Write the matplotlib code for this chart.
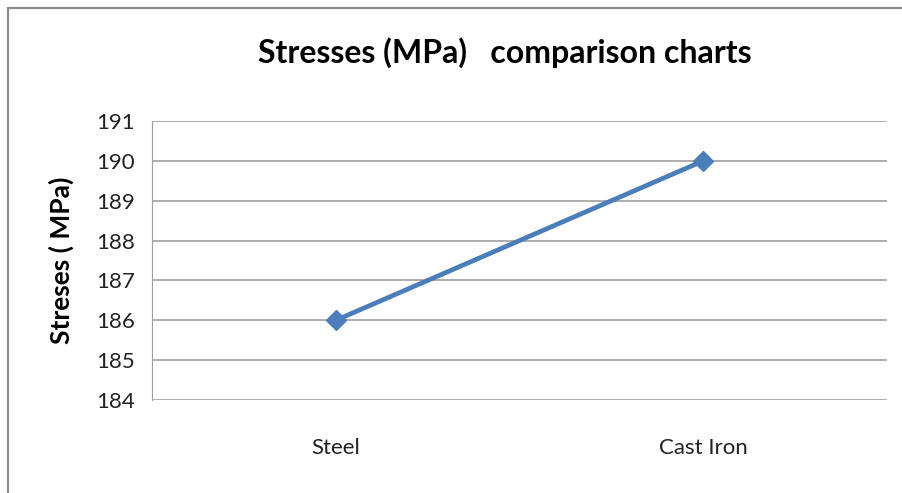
import matplotlib.pyplot as plt
from matplotlib.patches import Rectangle

materials = ["Steel", "Cast Iron"]
stresses = [186, 190]
yticks = [184, 185, 186, 187, 188, 189, 190, 191]

plt.rcParams['font.family'] = ['Lato', 'DejaVu Sans']

fig = plt.figure(figsize=(9.02, 4.93), dpi=100)
ax = fig.add_axes([0.1685, 0.1886, 0.815, 0.566])

# chart border (only top/left visible in the original crop)
fig.patches.append(Rectangle((8/902, -0.1), 1.2, 1 - 8/493 + 0.1, transform=fig.transFigure,
                             fill=False, ec='#8c8c8c', lw=1.6))

x = list(range(len(materials)))
ax.plot(x, stresses, '-', color='#4a7ebb', lw=3.4, marker='D', ms=10, mec='#4a7ebb', zorder=3)

ax.set_xlim(-0.5, len(materials) - 0.5)
ax.set_ylim(yticks[0], yticks[-1])
ax.set_yticks(yticks)
ax.set_xticks(x, materials)
ax.grid(axis='y', color='#a0a0a0', lw=1.2)
ax.set_axisbelow(True)
for s in ['top', 'right', 'bottom']:
    ax.spines[s].set_visible(False)
ax.spines['left'].set_color('#a0a0a0')
ax.tick_params(length=0, labelsize=16, colors='#222222')
ax.tick_params(axis='y', pad=12)
ax.tick_params(axis='x', pad=27)

ax.set_ylabel("Streses ( MPa)", fontsize=19, fontweight='bold', labelpad=16)
fig.text(0.5593, 0.893, "Stresses (MPa)   comparison charts", ha='center', va='center',
         fontsize=23, fontweight='bold')

fig.savefig('out.png', dpi=100)
